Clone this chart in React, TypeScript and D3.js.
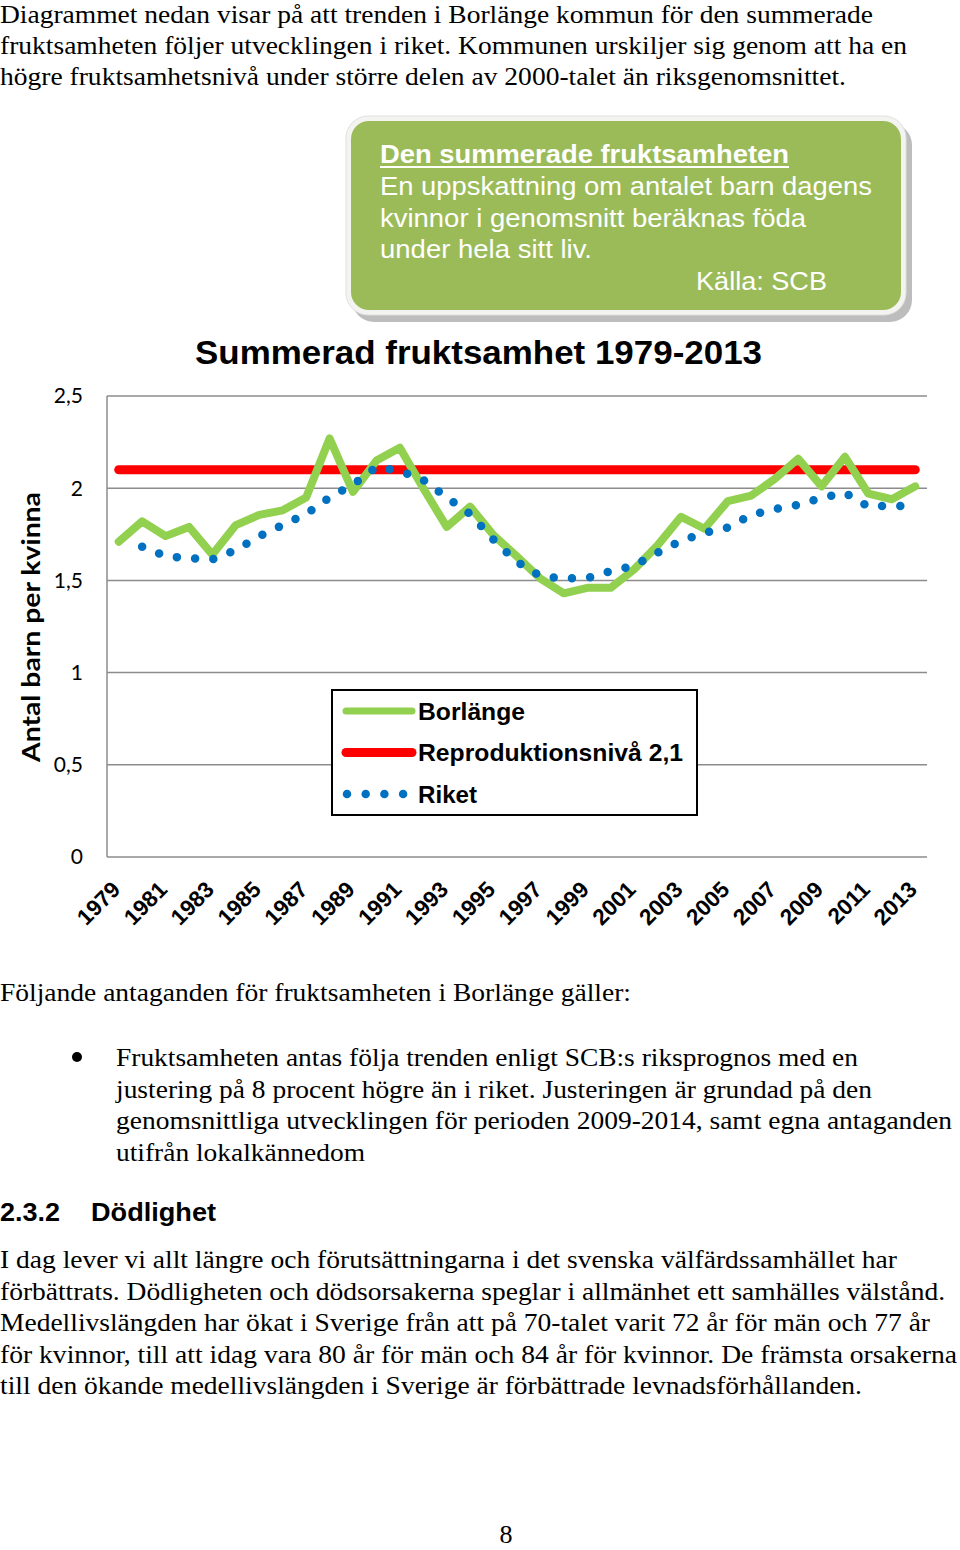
import React from "react";
import * as d3 from "d3";

const years: number[] = [
  1979, 1980, 1981, 1982, 1983, 1984, 1985, 1986, 1987, 1988, 1989, 1990,
  1991, 1992, 1993, 1994, 1995, 1996, 1997, 1998, 1999, 2000, 2001, 2002,
  2003, 2004, 2005, 2006, 2007, 2008, 2009, 2010, 2011, 2012, 2013,
];

const borlange: number[] = [
  1.71, 1.82, 1.74, 1.79, 1.64, 1.8, 1.855, 1.88, 1.95, 2.27, 1.98, 2.15,
  2.22, 2.0, 1.79, 1.9, 1.745, 1.63, 1.51, 1.43, 1.46, 1.46, 1.56, 1.69,
  1.845, 1.78, 1.93, 1.96, 2.05, 2.16, 2.01, 2.17, 1.97, 1.94, 2.01,
];

const riket: (number | null)[] = [
  null, 1.683, 1.632, 1.62, 1.614, 1.665, 1.74, 1.8, 1.86, 1.95, 2.02, 2.115,
  2.094, 2.045, 1.95, 1.86, 1.72, 1.6, 1.524, 1.51, 1.513, 1.55, 1.58, 1.65,
  1.715, 1.758, 1.787, 1.855, 1.887, 1.91, 1.947, 1.975, 1.9, 1.906, 1.9,
];

const reproduktionsniva = 2.1;

const yTicks: number[] = [0, 0.5, 1, 1.5, 2, 2.5];
const xTickYears: number[] = years.filter((y) => (y - 1979) % 2 === 0);

const legendItems: [string, number][] = [
  ["Borlänge", 107],
  ["Reproduktionsnivå 2,1", 265],
  ["Riket", 59],
];

const topText: [string, number][] = [
  ["Diagrammet nedan visar på att trenden i Borlänge kommun för den summerade", 873],
  ["fruktsamheten följer utvecklingen i riket. Kommunen urskiljer sig genom att ha en", 907],
  ["högre fruktsamhetsnivå under större delen av 2000-talet än riksgenomsnittet.", 846],
];

const bulletText: [string, number][] = [
  ["Fruktsamheten antas följa trenden enligt SCB:s riksprognos med en", 742],
  ["justering på 8 procent högre än i riket. Justeringen är grundad på den", 756],
  ["genomsnittliga utvecklingen för perioden 2009-2014, samt egna antaganden", 836],
  ["utifrån lokalkännedom", 249],
];

const paraText: [string, number][] = [
  ["I dag lever vi allt längre och förutsättningarna i det svenska välfärdssamhället har", 897],
  ["förbättrats. Dödligheten och dödsorsakerna speglar i allmänhet ett samhälles välstånd.", 945],
  ["Medellivslängden har ökat i Sverige från att på 70-talet varit 72 år för män och 77 år", 930],
  ["för kvinnor, till att idag vara 80 år för män och 84 år för kvinnor. De främsta orsakerna", 957],
  ["till den ökande medellivslängden i Sverige är förbättrade levnadsförhållanden.", 862],
];

const boxLines: [string, number][] = [
  ["En uppskattning om antalet barn dagens", 492],
  ["kvinnor i genomsnitt beräknas föda", 426],
  ["under hela sitt liv.", 212],
];

const SERIF = "'Liberation Serif', 'Times New Roman', serif";
const SANS = "'Liberation Sans', Arial, sans-serif";
const CAL = "Lato, 'Open Sans', sans-serif";

const GREEN = "#92D050";
const RED = "#FF0000";
const BLUE = "#0070C0";

export default function App() {
  const x = d3.scalePoint<number>().domain(years).range([107, 927]).padding(0.5);
  const y = d3.scaleLinear().domain([0, 2.5]).range([857, 396]);

  const lineB = d3
    .line<number>()
    .x((_, i) => x(years[i]) as number)
    .y((d) => y(d));
  const lineR = d3
    .line<number | null>()
    .defined((d) => d != null)
    .x((_, i) => x(years[i]) as number)
    .y((d) => y(d as number));
  const repro = years.map(() => reproduktionsniva);

  const bodyText = (lines: [string, number][], x0: number, y0: number, dy: number) =>
    lines.map(([t, w], i) => (
      <text
        key={i}
        x={x0}
        y={y0 + i * dy}
        fontFamily={SERIF}
        fontSize={26}
        textLength={w}
        lengthAdjust="spacingAndGlyphs"
        fill="#000"
      >
        {t}
      </text>
    ));

  return (
    <svg
      width={960}
      height={1550}
      style={{ position: "absolute", left: 0, top: 0, background: "#fff" }}
    >
      <rect x={0} y={0} width={960} height={1550} fill="#fff" />
      {bodyText(topText, 0, 22.5, 31.2)}

      {/* callout box */}
      <g>
        <rect x={352} y={123} width={560} height={199} rx={22} fill="#BDBDBD" />
        <rect x={346} y={116} width={560} height={199} rx={22} fill="#F3F4F2" stroke="#E0E2DE" strokeWidth={1} />
        <rect x={351} y={121} width={550} height={189} rx={18} fill="#9BBB59" />
        <text x={380} y={163} fontFamily={SANS} fontSize={26} fontWeight="bold" fill="#fff" textLength={409} lengthAdjust="spacingAndGlyphs">
          Den summerade fruktsamheten
        </text>
        <line x1={380} x2={789} y1={167} y2={167} stroke="#fff" strokeWidth={2} />
        {boxLines.map(([t, w], i) => (
          <text key={i} x={380} y={195 + i * 31.5} fontFamily={SANS} fontSize={26} fill="#fff" textLength={w} lengthAdjust="spacingAndGlyphs">
            {t}
          </text>
        ))}
        <text x={696} y={290} fontFamily={SANS} fontSize={26} fill="#fff" textLength={131} lengthAdjust="spacingAndGlyphs">
          Källa: SCB
        </text>
      </g>

      {/* chart title */}
      <text x={478.5} y={364} textAnchor="middle" fontFamily={SANS} fontSize={33} fontWeight="bold" fill="#000" textLength={567} lengthAdjust="spacingAndGlyphs">
        Summerad fruktsamhet 1979-2013
      </text>

      {/* gridlines */}
      {yTicks.map((t) => (
        <g key={t}>
          <line x1={107} x2={927} y1={y(t)} y2={y(t)} stroke="#8C8C8C" strokeWidth={1.5} />
          <text x={83} y={y(t)} dy="0.35em" textAnchor="end" fontFamily={CAL} fontSize={21} fill="#000">
            {String(t).replace(".", ",")}
          </text>
        </g>
      ))}
      <line x1={107} x2={107} y1={396} y2={857} stroke="#8C8C8C" strokeWidth={1.5} />

      {/* axis title */}
      <text
        transform={`translate(40, 627) rotate(-90)`}
        textAnchor="middle"
        fontFamily={CAL}
        fontWeight="bold"
        fontSize={24}
        fill="#000"
        textLength={270}
        lengthAdjust="spacingAndGlyphs"
      >
        Antal barn per kvinna
      </text>

      {/* x labels */}
      {xTickYears.map((yr) => (
        <text
          key={yr}
          transform={`translate(${(x(yr) as number) + 3}, 891) rotate(-45)`}
          textAnchor="end"
          fontFamily={SANS}
          fontWeight="bold"
          fontSize={22.5}
          fill="#000"
        >
          {yr}
        </text>
      ))}

      {/* series */}
      <path d={lineR(repro as any) as string} fill="none" stroke={RED} strokeWidth={9} strokeLinecap="round" />
      <path d={lineB(borlange) as string} fill="none" stroke={GREEN} strokeWidth={8} strokeLinejoin="round" strokeLinecap="round" />
      <path d={lineR(riket) as string} fill="none" stroke={BLUE} strokeWidth={8.5} strokeLinecap="round" strokeDasharray="0 18.3" />

      {/* legend */}
      <rect x={332} y={690} width={365} height={125} fill="#fff" stroke="#000" strokeWidth={2} />
      {legendItems.map(([name, w], i) => {
        const ly = 711 + i * 41.5;
        const col = [GREEN, RED, BLUE][i];
        return (
          <g key={name}>
            {i < 2 ? (
              <line x1={346} x2={412} y1={ly} y2={ly} stroke={col} strokeWidth={i === 0 ? 7 : 9} strokeLinecap="round" />
            ) : (
              <line x1={347} x2={405} y1={ly} y2={ly} stroke={col} strokeWidth={8.5} strokeLinecap="round" strokeDasharray="0 18.7" />
            )}
            <text x={418} y={ly} dy="0.36em" fontFamily={SANS} fontWeight="bold" fontSize={24} fill="#000" textLength={w} lengthAdjust="spacingAndGlyphs">
              {name}
            </text>
          </g>
        );
      })}

      {/* text below */}
      <text x={0} y={1001} fontFamily={SERIF} fontSize={26} textLength={631} lengthAdjust="spacingAndGlyphs">
        Följande antaganden för fruktsamheten i Borlänge gäller:
      </text>
      <circle cx={77} cy={1057} r={5} fill="#000" />
      {bodyText(bulletText, 116, 1066, 31.7)}

      <text x={0} y={1221} fontFamily={SANS} fontWeight="bold" fontSize={25} textLength={60} lengthAdjust="spacingAndGlyphs">
        2.3.2
      </text>
      <text x={91} y={1221} fontFamily={SANS} fontWeight="bold" fontSize={25} textLength={125} lengthAdjust="spacingAndGlyphs">
        Dödlighet
      </text>

      {bodyText(paraText, 0, 1268, 31.6)}

      <text x={506} y={1543} textAnchor="middle" fontFamily={SERIF} fontSize={26}>
        8
      </text>
    </svg>
  );
}
